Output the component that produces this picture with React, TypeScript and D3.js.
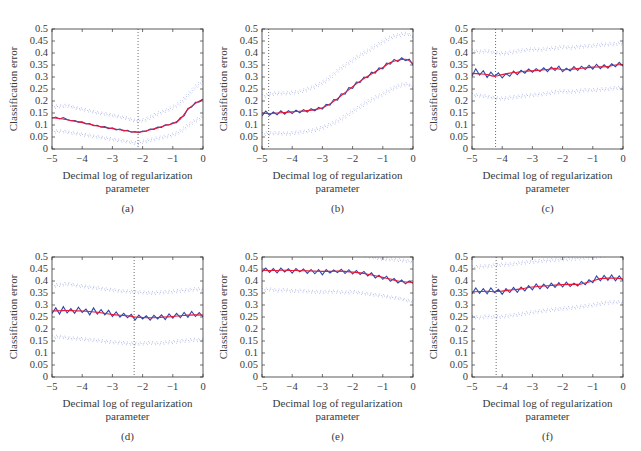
import * as d3 from 'd3'

// x grids
const xFine = d3.range(0, 41).map(i => -5 + i * 0.125)
const xCoarse = d3.range(0, 21).map(i => -5 + i * 0.25)

const yTicks = [0, 0.05, 0.1, 0.15, 0.2, 0.25, 0.3, 0.35, 0.4, 0.45, 0.5]
const xTicks = [-5, -4, -3, -2, -1, 0]
const captions = ['(a)', '(b)', '(c)', '(d)', '(e)', '(f)']
const optimum = [-2.15, -4.78, -4.22, -2.28, null, -4.2]

// (a)
const blueA = [0.128, 0.133, 0.125, 0.131, 0.123, 0.118, 0.119, 0.112, 0.113, 0.104, 0.106, 0.097, 0.099, 0.091, 0.093, 0.085, 0.088, 0.080, 0.083, 0.075, 0.078, 0.070, 0.073, 0.068, 0.075, 0.074, 0.083, 0.082, 0.091, 0.090, 0.101, 0.100, 0.109, 0.110, 0.130, 0.138, 0.169, 0.175, 0.195, 0.196, 0.208]
const redA = [0.130, 0.127, 0.122, 0.116, 0.110, 0.103, 0.096, 0.090, 0.085, 0.080, 0.075, 0.070, 0.072, 0.080, 0.088, 0.098, 0.106, 0.125, 0.165, 0.190, 0.207]
const upA = [0.175, 0.178, 0.180, 0.172, 0.165, 0.158, 0.150, 0.146, 0.140, 0.133, 0.127, 0.118, 0.120, 0.133, 0.148, 0.160, 0.175, 0.195, 0.228, 0.260, 0.285]
const loA = [0.072, 0.074, 0.070, 0.065, 0.060, 0.055, 0.050, 0.045, 0.040, 0.035, 0.030, 0.025, 0.030, 0.038, 0.045, 0.052, 0.060, 0.075, 0.100, 0.120, 0.135]

// (b)
const blueB = [0.138, 0.158, 0.141, 0.154, 0.143, 0.159, 0.145, 0.160, 0.148, 0.162, 0.151, 0.164, 0.154, 0.168, 0.159, 0.173, 0.166, 0.186, 0.183, 0.206, 0.204, 0.230, 0.228, 0.256, 0.253, 0.279, 0.277, 0.300, 0.297, 0.320, 0.316, 0.338, 0.334, 0.358, 0.354, 0.373, 0.364, 0.380, 0.368, 0.374, 0.350]
const redB = [0.150, 0.147, 0.150, 0.152, 0.155, 0.157, 0.160, 0.164, 0.172, 0.188, 0.210, 0.235, 0.260, 0.283, 0.303, 0.322, 0.340, 0.360, 0.370, 0.374, 0.355]
const upB = [0.220, 0.228, 0.232, 0.232, 0.235, 0.240, 0.250, 0.262, 0.278, 0.300, 0.328, 0.350, 0.372, 0.392, 0.410, 0.430, 0.448, 0.465, 0.474, 0.480, 0.466]
const loB = [0.062, 0.065, 0.066, 0.064, 0.066, 0.070, 0.074, 0.080, 0.090, 0.103, 0.118, 0.138, 0.158, 0.178, 0.198, 0.215, 0.230, 0.248, 0.262, 0.270, 0.255]

// (c)
const blueC = [0.303, 0.334, 0.308, 0.326, 0.298, 0.320, 0.302, 0.317, 0.296, 0.314, 0.303, 0.325, 0.310, 0.328, 0.316, 0.333, 0.320, 0.335, 0.323, 0.338, 0.322, 0.341, 0.327, 0.345, 0.322, 0.337, 0.325, 0.343, 0.327, 0.345, 0.331, 0.349, 0.333, 0.353, 0.335, 0.351, 0.337, 0.355, 0.343, 0.361, 0.345]
const redC = [0.315, 0.313, 0.310, 0.303, 0.310, 0.316, 0.320, 0.324, 0.326, 0.328, 0.331, 0.336, 0.330, 0.332, 0.335, 0.338, 0.341, 0.342, 0.344, 0.350, 0.352]
const upC = [0.410, 0.405, 0.408, 0.400, 0.398, 0.402, 0.408, 0.412, 0.415, 0.414, 0.418, 0.420, 0.425, 0.422, 0.426, 0.428, 0.430, 0.434, 0.436, 0.438, 0.440]
const loC = [0.225, 0.222, 0.218, 0.212, 0.210, 0.214, 0.218, 0.222, 0.225, 0.228, 0.232, 0.238, 0.240, 0.238, 0.242, 0.245, 0.245, 0.248, 0.250, 0.254, 0.255]

// (d)
const blueD = [0.265, 0.288, 0.262, 0.293, 0.267, 0.285, 0.265, 0.291, 0.269, 0.283, 0.259, 0.288, 0.262, 0.281, 0.259, 0.278, 0.252, 0.271, 0.249, 0.265, 0.247, 0.261, 0.237, 0.258, 0.242, 0.255, 0.237, 0.257, 0.242, 0.259, 0.239, 0.263, 0.245, 0.265, 0.247, 0.269, 0.249, 0.273, 0.252, 0.268, 0.250]
const redD = [0.275, 0.276, 0.277, 0.276, 0.275, 0.273, 0.270, 0.265, 0.260, 0.257, 0.255, 0.250, 0.248, 0.247, 0.248, 0.250, 0.252, 0.255, 0.258, 0.259, 0.258]
const upD = [0.380, 0.384, 0.388, 0.382, 0.378, 0.374, 0.370, 0.366, 0.362, 0.358, 0.356, 0.354, 0.352, 0.350, 0.352, 0.354, 0.356, 0.360, 0.362, 0.366, 0.364]
const loD = [0.165, 0.168, 0.162, 0.160, 0.158, 0.155, 0.152, 0.148, 0.145, 0.143, 0.140, 0.138, 0.140, 0.142, 0.140, 0.144, 0.146, 0.150, 0.152, 0.155, 0.155]

// (e)
const blueE = [0.438, 0.454, 0.436, 0.452, 0.434, 0.454, 0.438, 0.451, 0.433, 0.452, 0.438, 0.450, 0.432, 0.448, 0.430, 0.447, 0.426, 0.448, 0.433, 0.446, 0.435, 0.449, 0.431, 0.447, 0.429, 0.444, 0.427, 0.440, 0.421, 0.434, 0.413, 0.424, 0.407, 0.420, 0.399, 0.410, 0.392, 0.404, 0.388, 0.400, 0.390]
const redE = [0.445, 0.444, 0.444, 0.445, 0.444, 0.443, 0.442, 0.441, 0.440, 0.440, 0.441, 0.440, 0.437, 0.434, 0.428, 0.422, 0.415, 0.408, 0.400, 0.396, 0.394]
const upE = [0.560, 0.555, 0.555, 0.550, 0.550, 0.545, 0.545, 0.540, 0.535, 0.530, 0.525, 0.520, 0.515, 0.510, 0.502, 0.496, 0.492, 0.490, 0.487, 0.484, 0.480]
const loE = [0.362, 0.365, 0.360, 0.362, 0.358, 0.360, 0.356, 0.355, 0.354, 0.356, 0.355, 0.352, 0.355, 0.350, 0.346, 0.342, 0.338, 0.332, 0.328, 0.320, 0.312]

// (f)
const blueF = [0.347, 0.371, 0.349, 0.368, 0.347, 0.371, 0.351, 0.365, 0.345, 0.368, 0.352, 0.373, 0.353, 0.375, 0.359, 0.381, 0.363, 0.388, 0.367, 0.387, 0.369, 0.391, 0.373, 0.393, 0.375, 0.395, 0.377, 0.391, 0.379, 0.398, 0.385, 0.405, 0.393, 0.421, 0.401, 0.423, 0.403, 0.425, 0.401, 0.421, 0.402]
const redF = [0.355, 0.356, 0.357, 0.355, 0.358, 0.362, 0.365, 0.370, 0.375, 0.378, 0.380, 0.383, 0.385, 0.386, 0.386, 0.392, 0.400, 0.410, 0.412, 0.412, 0.408]
const upF = [0.455, 0.460, 0.462, 0.465, 0.468, 0.470, 0.474, 0.478, 0.480, 0.484, 0.486, 0.488, 0.490, 0.492, 0.494, 0.497, 0.500, 0.505, 0.508, 0.510, 0.512]
const loF = [0.250, 0.248, 0.252, 0.250, 0.252, 0.256, 0.260, 0.265, 0.270, 0.274, 0.278, 0.282, 0.285, 0.288, 0.292, 0.296, 0.300, 0.306, 0.310, 0.312, 0.310]

const blues = [blueA, blueB, blueC, blueD, blueE, blueF]
const reds = [redA, redB, redC, redD, redE, redF]
const ups = [upA, upB, upC, upD, upE, upF]
const los = [loA, loB, loC, loD, loE, loF]

const FONT = '"Liberation Serif", "Times New Roman", serif'
const W = 151
const H = 120
const lefts = [52, 262, 472]
const tops = [29, 257]
const txt = { fontFamily: FONT, fill: '#3a3a3a' }

const fmtX = (v: number) => (v < 0 ? '\u2212' + Math.abs(v) : String(v))

const Panel = ({ idx }: { idx: number }) => {
  const left = lefts[idx % 3]
  const top = tops[Math.floor(idx / 3)]
  const x = d3.scaleLinear().domain([-5, 0]).range([0, W])
  const y = d3.scaleLinear().domain([0, 0.5]).range([H, 0])

  const line = d3.line<[number, number]>()
    .x(d => x(d[0]))
    .y(d => y(d[1]))

  const fine = (vals: number[]) => line.curve(d3.curveLinear)(xFine.map((v, i) => [v, vals[i]])) || ''
  const coarse = (vals: number[]) =>
    line.curve(d3.curveMonotoneX)(xCoarse.map((v, i) => [v, vals[i]])) || ''

  const clipId = 'clip' + idx
  const opt = optimum[idx]
  // fuzzy dotted band: a few offset dotted copies
  const bandOffsets = [-1.5, 0, 1.5]

  return (
    <g transform={`translate(${left},${top})`}>
      <defs>
        <clipPath id={clipId}>
          <rect x={0} y={0} width={W} height={H} />
        </clipPath>
      </defs>
      <g clipPath={`url(#${clipId})`}>
        {[ups[idx], los[idx]].map((band, b) =>
          bandOffsets.map((o, k) => (
            <path key={'b' + b + k} d={coarse(band)} transform={`translate(${k * 0.7},${o})`}
              fill="none" stroke="#98a6e0" strokeWidth={0.8}
              strokeDasharray={k === 1 ? '1 1.8' : '0.8 3.4'} strokeDashoffset={k * 1.3} />
          ))
        )}
        <path d={fine(blues[idx])} fill="none" stroke="#2b47a8" strokeWidth={1.1} />
        <path d={coarse(reds[idx])} fill="none" stroke="#e8173a" strokeWidth={1.1} />
        {opt !== null && (
          <line x1={x(opt)} x2={x(opt)} y1={0} y2={H} stroke="#444" strokeWidth={0.8} strokeDasharray="1 2" />
        )}
      </g>
      <rect x={0} y={0} width={W} height={H} fill="none" stroke="#333" strokeWidth={0.8} />
      {yTicks.map(t => (
        <g key={'y' + t}>
          <line x1={0} x2={3} y1={y(t)} y2={y(t)} stroke="#333" strokeWidth={0.7} />
          <line x1={W - 3} x2={W} y1={y(t)} y2={y(t)} stroke="#333" strokeWidth={0.7} />
          <text x={-4} y={y(t)} dy="0.33em" textAnchor="end" fontSize={10.5} style={txt}>
            {String(t)}
          </text>
        </g>
      ))}
      {xTicks.map(t => (
        <g key={'x' + t}>
          <line x1={x(t)} x2={x(t)} y1={H} y2={H - 3} stroke="#333" strokeWidth={0.7} />
          <line x1={x(t)} x2={x(t)} y1={0} y2={3} stroke="#333" strokeWidth={0.7} />
          <text x={x(t)} y={H + 13} textAnchor="middle" fontSize={10.5} style={txt}>
            {fmtX(t)}
          </text>
        </g>
      ))}
      <text transform={`translate(${-35},${H / 2}) rotate(-90)`} textAnchor="middle" fontSize={11} style={txt}>
        Classification error
      </text>
      <text x={W / 2} y={H + 30} textAnchor="middle" fontSize={11} style={txt}>
        Decimal log of regularization
      </text>
      <text x={W / 2} y={H + 43} textAnchor="middle" fontSize={11} style={txt}>
        parameter
      </text>
      <text x={W / 2} y={H + 63} textAnchor="middle" fontSize={11} style={txt}>
        {captions[idx]}
      </text>
    </g>
  )
}

export default function App() {
  return (
    <svg width={641} height={451} style={{ position: 'absolute', left: 0, top: 0, background: '#fff' }}>
      {captions.map((c, i) => (
        <Panel key={c} idx={i} />
      ))}
    </svg>
  )
}
